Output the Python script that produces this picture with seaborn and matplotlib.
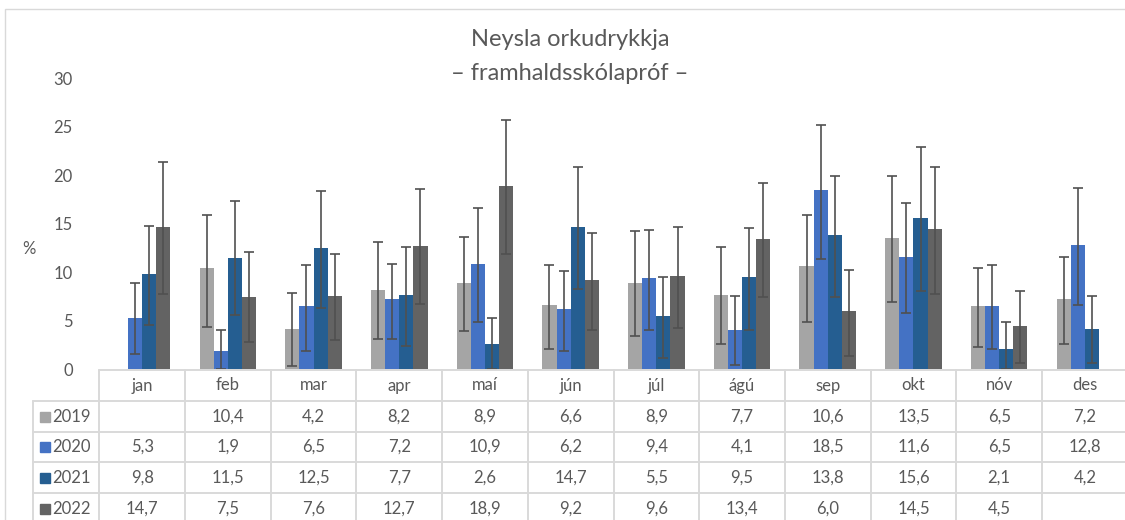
import numpy as np
import pandas as pd
import seaborn as sns
import matplotlib.pyplot as plt
from matplotlib.patches import Rectangle
from matplotlib.transforms import blended_transform_factory

months = ['jan', 'feb', 'mar', 'apr', 'maí', 'jún', 'júl', 'ágú', 'sep', 'okt', 'nóv', 'des']
years = ['2019', '2020', '2021', '2022']

v2019 = [np.nan, 10.4, 4.2, 8.2, 8.9, 6.6, 8.9, 7.7, 10.6, 13.5, 6.5, 7.2]
v2020 = [5.3, 1.9, 6.5, 7.2, 10.9, 6.2, 9.4, 4.1, 18.5, 11.6, 6.5, 12.8]
v2021 = [9.8, 11.5, 12.5, 7.7, 2.6, 14.7, 5.5, 9.5, 13.8, 15.6, 2.1, 4.2]
v2022 = [14.7, 7.5, 7.6, 12.7, 18.9, 9.2, 9.6, 13.4, 6.0, 14.5, 4.5, np.nan]

# error bar ends (lower / upper)
lo2019 = [np.nan, 4.4, 0.3, 3.1, 3.9, 2.1, 3.4, 2.6, 4.9, 6.9, 2.3, 2.6]
hi2019 = [np.nan, 15.9, 7.9, 13.1, 13.6, 10.8, 14.3, 12.6, 15.9, 19.9, 10.4, 11.6]
lo2020 = [1.6, 0.0, 1.9, 3.1, 4.9, 1.9, 4.1, 0.4, 11.4, 5.8, 2.1, 6.6]
hi2020 = [8.9, 4.1, 10.8, 10.9, 16.6, 10.1, 14.4, 7.6, 25.2, 17.1, 10.8, 18.7]
lo2021 = [4.6, 5.6, 6.3, 2.4, 0.0, 8.3, 1.2, 4.1, 7.5, 8.1, 0.0, 0.6]
hi2021 = [14.8, 17.3, 18.4, 12.6, 5.3, 20.9, 9.5, 14.6, 19.9, 22.9, 4.9, 7.6]
lo2022 = [7.8, 2.8, 3.0, 6.7, 11.9, 4.1, 4.3, 7.5, 1.4, 7.8, 0.6, np.nan]
hi2022 = [21.4, 12.1, 11.9, 18.6, 25.7, 14.1, 14.7, 19.2, 10.2, 20.9, 8.1, np.nan]

colors = ['#A5A5A5', '#4472C4', '#255E91', '#636363']
vals = [v2019, v2020, v2021, v2022]
los = [lo2019, lo2020, lo2021, lo2022]
his = [hi2019, hi2020, hi2021, hi2022]

rows = []
for y, v in zip(years, vals):
    for m, x in zip(months, v):
        rows.append({'month': m, 'year': y, 'value': x})
df = pd.DataFrame(rows)

sns.set_style('white')
plt.rcParams['font.family'] = ['Lato', 'DejaVu Sans']
txt = '#595959'
grid = '#D9D9D9'

W, H = 1125, 520
fig = plt.figure(figsize=(11.25, 5.2), dpi=100)
ax = fig.add_axes([99.3 / W, 1 - 369.3 / H, 12 * 85.7 / W, (369.3 - 78.3) / H])

sns.barplot(data=df, x='month', y='value', hue='year', order=months, hue_order=years,
            palette=colors, width=0.66, errorbar=None, legend=False, linewidth=0,
            saturation=1, ax=ax)

# asymmetric error bars on each bar
bar_groups = list(ax.containers)
for k, cont in enumerate(bar_groups):
    for bar in cont:
        if bar is None:
            continue
        cx = bar.get_x() + bar.get_width() / 2
        i = int(round(cx))
        v = vals[k][i]
        if np.isnan(v):
            continue
        ax.errorbar(cx, v, yerr=[[v - los[k][i]], [his[k][i] - v]], fmt='none',
                    ecolor='#505050', elinewidth=1.2, capsize=3.6, capthick=1.2)

ax.set_xlim(-0.5, 11.5)
ax.set_ylim(0, 30)
ax.set_yticks(range(0, 31, 5))
ax.tick_params(axis='y', length=0, pad=19, labelsize=12, labelcolor=txt)
ax.set_xticks([])
ax.set_xlabel('')
ax.set_ylabel('')
for s in ax.spines.values():
    s.set_visible(False)

fig.text(28.6 / W, 1 - 249 / H, '%', ha='center', va='center', fontsize=12, color=txt)
fig.text(570 / W, 1 - 40 / H, 'Neysla orkudrykkja', ha='center', va='center', fontsize=17, color=txt)
fig.text(570 / W, 1 - 73 / H, '– framhaldsskólapróf –', ha='center', va='center', fontsize=17, color=txt)

# data table below the plot
tr = blended_transform_factory(ax.transData, fig.transFigure)
fy = lambda p: 1 - p / H
xl = -0.5 - 66.1 / 85.7
row_lines = [400.7, 431.7, 462.3, 493.3]
ax.plot([-0.5, 11.6], [fy(370), fy(370)], color=grid, lw=1.4, transform=tr, clip_on=False)
for yl in row_lines:
    ax.plot([xl, 11.6], [fy(yl), fy(yl)], color=grid, lw=1.4, transform=tr, clip_on=False)
for j in range(13):
    ax.plot([j - 0.5, j - 0.5], [fy(370), fy(525)], color=grid, lw=1.4, transform=tr, clip_on=False)
ax.plot([xl, xl], [fy(400.7), fy(525)], color=grid, lw=1.4, transform=tr, clip_on=False)

for i, m in enumerate(months):
    ax.text(i, fy(385.5), m, ha='center', va='center', fontsize=12, color=txt, transform=tr)

row_centers = [416.5, 447, 478, 509]
for k, y in enumerate(years):
    yc = fy(row_centers[k])
    fig.add_artist(Rectangle((40 / W, yc - 5 / H), 9.5 / W, 10 / H, color=colors[k]))
    fig.text(52 / W, yc, y, ha='left', va='center', fontsize=12, color=txt)
    for i, v in enumerate(vals[k]):
        if np.isnan(v):
            continue
        ax.text(i, yc, f'{v:.1f}'.replace('.', ','), ha='center', va='center',
                fontsize=12, color=txt, transform=tr)

fig.add_artist(Rectangle((5.4 / W, -0.1), 1.2, 1 - 9 / H + 0.1, fill=False,
                         edgecolor=grid, lw=1))

fig.savefig('out.png', dpi=100)
